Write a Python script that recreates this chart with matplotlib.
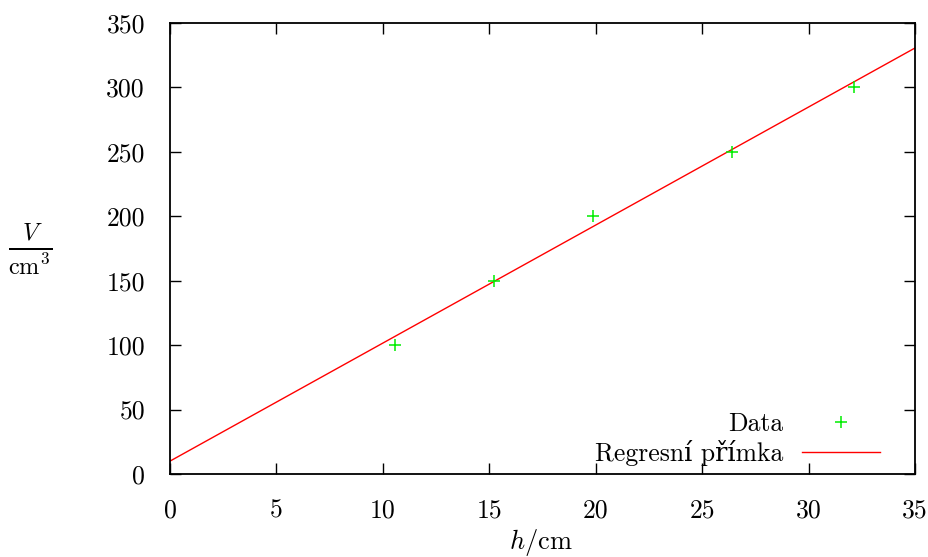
import numpy as np
import matplotlib
matplotlib.use("Agg")
import matplotlib.pyplot as plt

# Data
h_cm = [10.55, 15.2, 19.85, 26.4, 32.15]
V_cm3 = [100, 150, 200, 250, 300]
fit_slope = 9.16
fit_intercept = 10.0
x_ticks = [0, 5, 10, 15, 20, 25, 30, 35]
y_ticks = [0, 50, 100, 150, 200, 250, 300, 350]
series_labels = ['Data', 'Regresní přímka']

plt.rcParams['font.family'] = ['cmr10', 'DejaVu Serif']
plt.rcParams['mathtext.fontset'] = 'cm'
plt.rcParams['axes.formatter.use_mathtext'] = True
plt.rcParams['axes.unicode_minus'] = False

fig = plt.figure(figsize=(9.29, 5.57), dpi=100)
W, H = 929, 557
L, R, T, B = 170, 915, 23, 474
ax = fig.add_axes([L / W, 1 - B / H, (R - L) / W, (B - T) / H])

xx = np.array([0, 35])
ax.plot(xx, fit_slope * xx + fit_intercept, color='#ff0000', lw=1.0,
        label=series_labels[1], zorder=2)
ax.plot(h_cm, V_cm3, linestyle='none', marker='+', color='#00ee00',
        markersize=8, markeredgewidth=1.1, label=series_labels[0], zorder=3)

ax.set_xlim(0, 35)
ax.set_ylim(0, 350)
ax.set_xticks(x_ticks)
ax.set_yticks(y_ticks)
ax.set_xticklabels([str(v) for v in x_ticks])
ax.set_yticklabels([str(v) for v in y_ticks])
ax.tick_params(direction='in', length=8, width=1.0, top=True, right=True,
               labelsize=18.5, pad=18)
ax.tick_params(axis='x', pad=18)
for s in ax.spines.values():
    s.set_linewidth(1.3)

ax.set_xlabel(r'$h/\mathrm{cm}$', fontsize=19)
ax.xaxis.set_label_coords((541 - L) / (R - L), (B - 543) / (B - T))
ax.xaxis.label.set_va('center')
ax.set_ylabel(r'$\frac{V}{\mathrm{cm}^3}$', fontsize=25, rotation=0, va='center')
ax.yaxis.set_label_coords((30 - L) / (R - L), (B - 250) / (B - T))

handles, labels = ax.get_legend_handles_labels()
leg = ax.legend([handles[1], handles[0]], [labels[1], labels[0]],
                loc='lower right', frameon=False, markerfirst=False,
                fontsize=18.5, handlelength=3.03, handletextpad=0.74,
                labelspacing=0.15, borderpad=0, borderaxespad=0,
                bbox_to_anchor=((880 - L) / (R - L), (B - 466) / (B - T)))
for t in leg.get_texts():
    t.set_ha('right')

fig.savefig('out.png', dpi=100)
